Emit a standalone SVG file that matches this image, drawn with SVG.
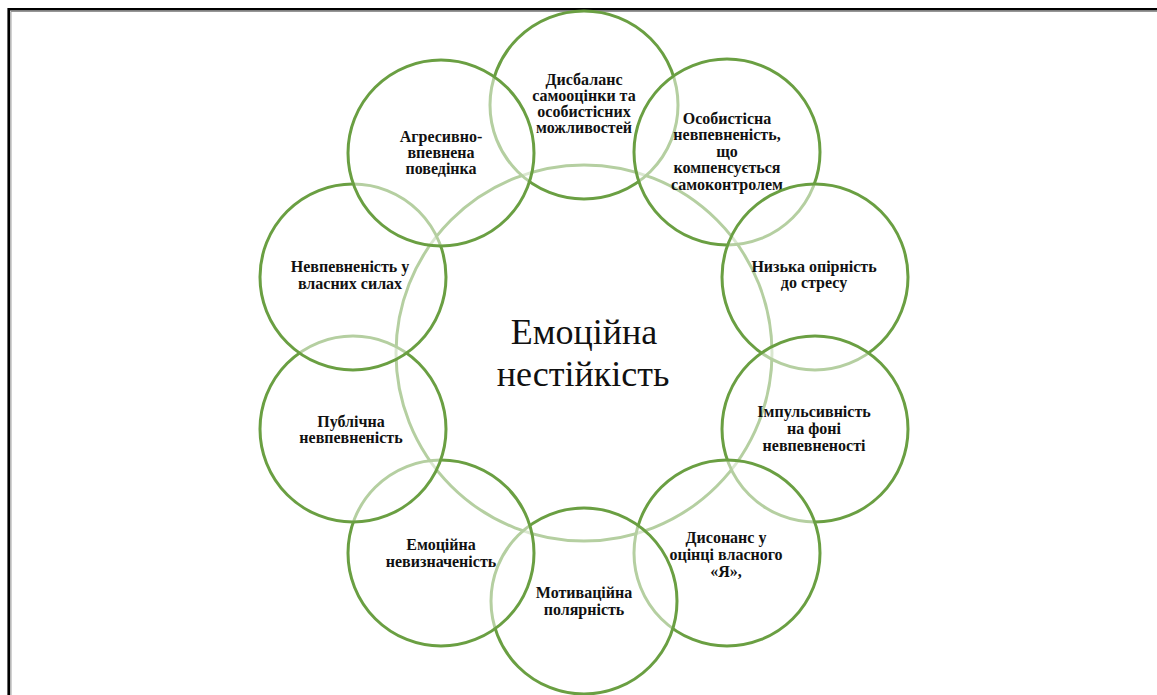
<svg xmlns="http://www.w3.org/2000/svg" width="1157" height="695" viewBox="0 0 1157 695">
  <style>
    .ring { fill: #ffffff; fill-opacity: 0.5; stroke: #6A9F42; stroke-width: 3; }
    .hub { fill: #ffffff; stroke: #6A9F42; stroke-width: 3; }
    .lbl { font-family: "Liberation Serif", "Times New Roman", serif; font-weight: bold; font-size: 16px; fill: #111111; text-anchor: middle; }
    .hubtxt { font-family: "Liberation Serif", "Times New Roman", serif; font-size: 36px; fill: #111111; text-anchor: middle; }
  </style>

  <rect x="0" y="0" width="1157" height="695" fill="#ffffff"/>

  <!-- page frame -->
  <path d="M8.7,695 V9.2 H1157" fill="none" stroke="#000000" stroke-width="2.6"/>
  <path d="M10.9,695 V11.4 H1157" fill="none" stroke="#8a8a8a" stroke-width="1"/>

  <!-- central node -->
  <g id="node-center">
    <circle class="hub" cx="584" cy="353" r="188"/>
    <text class="hubtxt" x="584" y="344">Емоційна</text>
    <text class="hubtxt" x="583" y="386">нестійкість</text>
  </g>

  <!-- outer nodes, drawn clockwise from the top; each half-transparent fill softens earlier strokes -->
  <g id="node-1">
    <circle class="ring" cx="584" cy="105" r="94"/>
    <text class="lbl" x="584" y="85">Дисбаланс</text>
    <text class="lbl" x="584" y="101">самооцінки та</text>
    <text class="lbl" x="584" y="117">особистісних</text>
    <text class="lbl" x="584" y="133">можливостей</text>
  </g>

  <g id="node-2">
    <circle class="ring" cx="727" cy="152" r="93"/>
    <text class="lbl" x="727" y="124">Особистісна</text>
    <text class="lbl" x="727" y="140">невпевненість,</text>
    <text class="lbl" x="727" y="157">що</text>
    <text class="lbl" x="727" y="173">компенсується</text>
    <text class="lbl" x="727" y="190">самоконтролем</text>
  </g>

  <g id="node-3">
    <circle class="ring" cx="815" cy="277" r="93"/>
    <text class="lbl" x="814" y="272">Низька опірність</text>
    <text class="lbl" x="814" y="288">до стресу</text>
  </g>

  <g id="node-4">
    <circle class="ring" cx="815" cy="429" r="93"/>
    <text class="lbl" x="814" y="417">Імпульсивність</text>
    <text class="lbl" x="814" y="434">на фоні</text>
    <text class="lbl" x="814" y="451">невпевненості</text>
  </g>

  <g id="node-5">
    <circle class="ring" cx="727" cy="553" r="93"/>
    <text class="lbl" x="726" y="543">Дисонанс у</text>
    <text class="lbl" x="726" y="560">оцінці власного</text>
    <text class="lbl" x="726" y="577">«Я»,</text>
  </g>

  <g id="node-6">
    <circle class="ring" cx="584" cy="601" r="93"/>
    <text class="lbl" x="584" y="598">Мотиваційна</text>
    <text class="lbl" x="584" y="615">полярність</text>
  </g>

  <g id="node-7">
    <circle class="ring" cx="441" cy="553" r="93"/>
    <text class="lbl" x="441" y="550">Емоційна</text>
    <text class="lbl" x="441" y="567">невизначеність</text>
  </g>

  <g id="node-8">
    <circle class="ring" cx="353" cy="429" r="93"/>
    <text class="lbl" x="351" y="427">Публічна</text>
    <text class="lbl" x="351" y="443">невпевненість</text>
  </g>

  <g id="node-9">
    <circle class="ring" cx="353" cy="277" r="93"/>
    <text class="lbl" x="350" y="272">Невпевненість у</text>
    <text class="lbl" x="350" y="289">власних силах</text>
  </g>

  <g id="node-10">
    <circle class="ring" cx="441" cy="153" r="93"/>
    <text class="lbl" x="441" y="142">Агресивно-</text>
    <text class="lbl" x="441" y="158">впевнена</text>
    <text class="lbl" x="441" y="174">поведінка</text>
  </g>
</svg>
